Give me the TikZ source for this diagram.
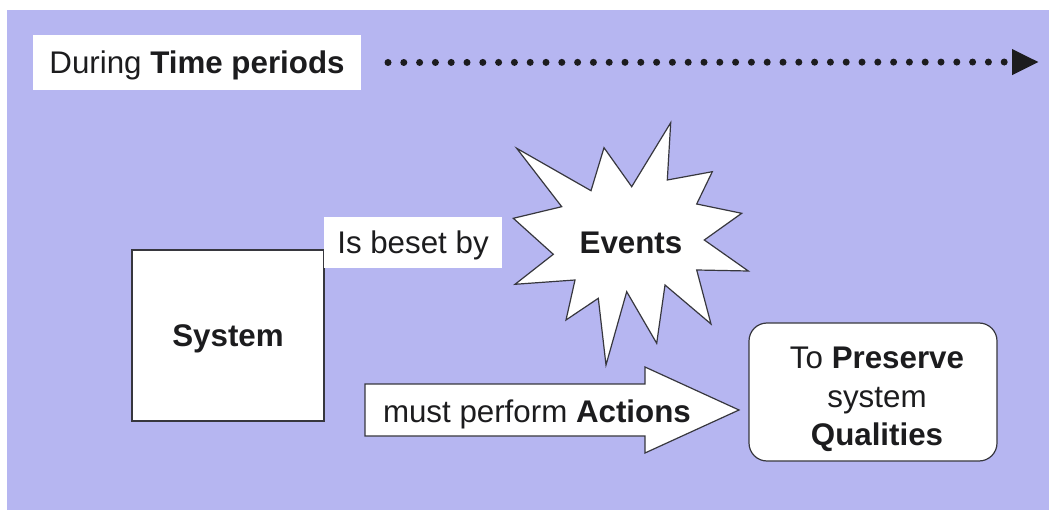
\documentclass[tikz,border=0pt]{standalone}
\usepackage{fontspec}
\setmainfont{Liberation Sans}
\usetikzlibrary{arrows.meta}
\definecolor{pagebg}{RGB}{182,182,241}
\definecolor{inkline}{RGB}{55,55,62}
\definecolor{inktext}{RGB}{28,28,30}

\begin{document}
\begin{tikzpicture}[x=1pt,y=-1pt,
  every node/.style={inner sep=0pt, outer sep=0pt, text=inktext,
    font=\fontsize{31.3}{38.5}\selectfont},
  capline/.style={text height=22.4pt, text depth=0pt},
  labelbox/.style={fill=white, capline},
  framebox/.style={draw=inkline, line width=1.2pt, fill=white, capline},
  outline/.style={draw=inkline, line width=1.2pt, fill=white, line join=miter},
  timeline/.style={line width=7pt, line cap=round, dash pattern=on 0pt off 15.8pt,
    draw=inktext, -{Triangle[length=27pt,width=24pt]}}
]
% page and tinted panel
\useasboundingbox (0,0) rectangle (1049,510);
\fill[white] (0,0) rectangle (1049,510);
\fill[pagebg] (7,10) rectangle (1049,510);

% time axis
\node[labelbox, minimum width=328pt, minimum height=55pt] (during) at (197,62.5)
  {During \textbf{Time periods}};
\coordinate (tend) at (1039,62);
\draw[timeline] ([xshift=27pt]during.east) -- (tend);

% system and its disturbances
\node[framebox, minimum width=192pt, minimum height=171pt] (system) at (228,335.5)
  {\textbf{System}};
\node[labelbox, minimum width=178pt, minimum height=51pt] (beset) at (413,242.5)
  {Is beset by};

% starburst
\draw[outline]
  (516.7,148.3) -- (591,190.7) -- (604,147.7) -- (631.7,186.7) --
  (670.7,122.7) -- (667.3,180) -- (712.3,171.7) -- (696.7,204) --
  (741.7,213.3) -- (704.3,240) -- (748.3,271) -- (696.7,270) --
  (711,324) -- (665,285) -- (656.7,343.3) -- (626.7,291.7) --
  (606,365) -- (598.3,298.3) -- (566,320) -- (575,280) --
  (515,284.3) -- (553.3,254.3) -- (513.3,218.3) -- (561.7,206.7) -- cycle;
\node[capline] (events) at (631,242) {\textbf{Events}};

% goal box
\node[draw=inkline, line width=1.2pt, fill=white, rounded corners=18pt,
  minimum width=248pt, minimum height=138pt] (qual) at (873,392) {};
\node[anchor=north, align=center] (qualtext) at (877,347)
  {To \textbf{Preserve}\\system\\\textbf{Qualities}};

% block arrow towards the goal
\draw[outline] (365,384) -- (645,384) -- (645,367) -- (739,410) --
  (645,453) -- (645,436) -- (365,436) -- cycle;
\node[anchor=base west] (actions) at (383,422) {must perform \textbf{Actions}};
\end{tikzpicture}
\end{document}
